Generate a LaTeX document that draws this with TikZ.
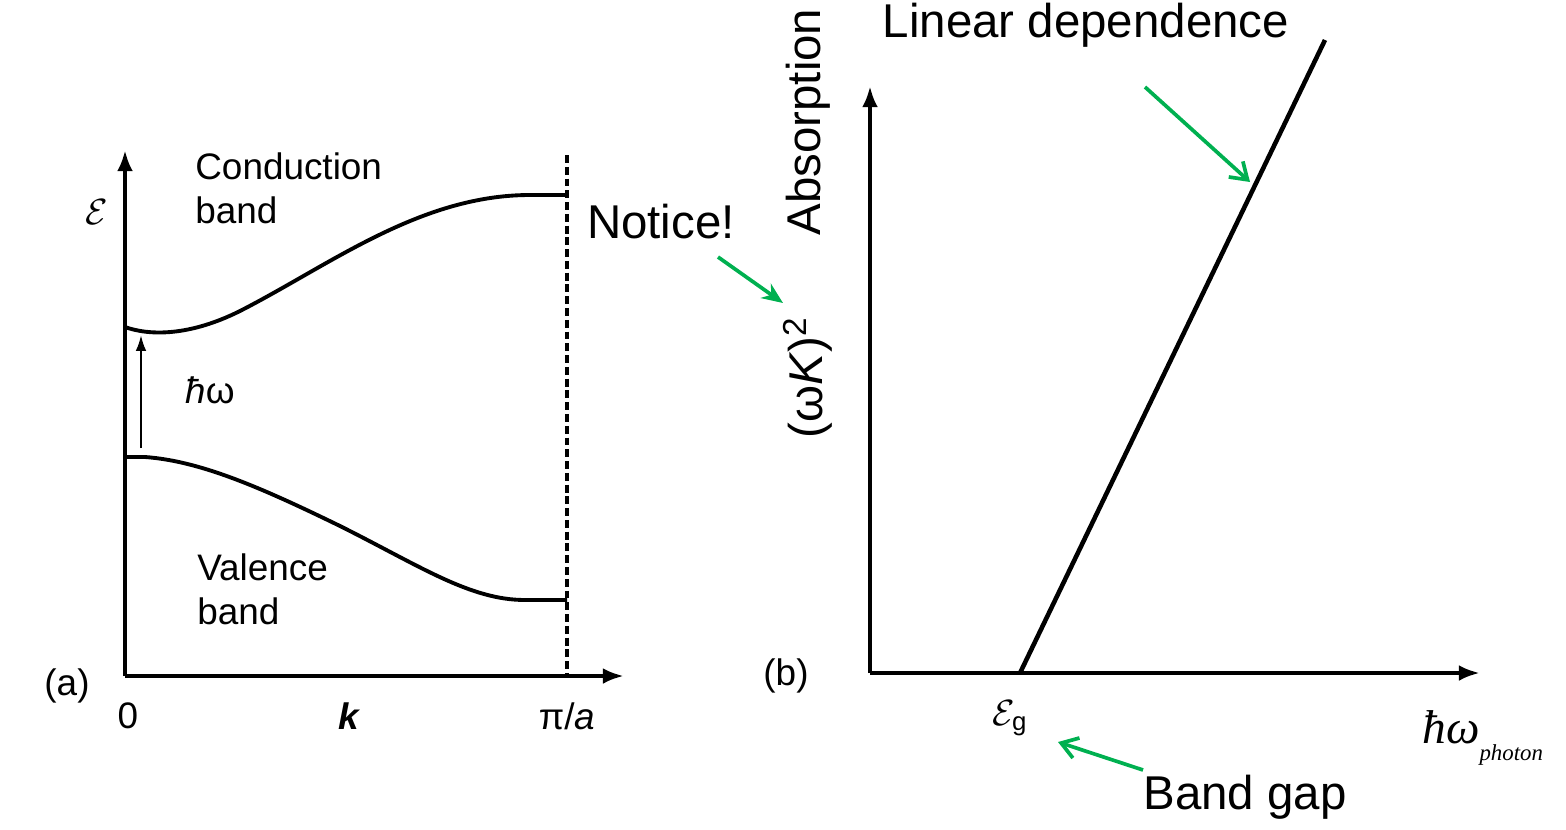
\documentclass[tikz,border=0pt]{standalone}
\usepackage{fontspec}
\setmainfont{Liberation Sans}
\newfontfamily\timesfont{Liberation Serif}
\usetikzlibrary{positioning,arrows.meta}

\definecolor{pptgreen}{RGB}{0,176,80}

\tikzset{
    axis/.style={line width=2.6pt, -{Latex[length=12pt,width=9pt]}},
    band/.style={line width=2.2pt},
    zone/.style={line width=2.4pt, dash pattern=on 4.5pt off 2.2pt},
    lbl/.style={font=\fontsize{21}{25}\selectfont, inner sep=0pt},
    note/.style={font=\fontsize{27}{32}\selectfont, inner sep=0pt},
    pointer/.style={draw=pptgreen, line width=2.1pt}
}

\begin{document}
\begin{tikzpicture}[x=0.02cm,y=-0.02cm]

\useasboundingbox (0,0) rectangle (1566,829);

% panel (a): bands
\coordinate (oa) at (125,676);
\coordinate (ea) at (125,150);
\coordinate (ka) at (624,676);
\coordinate (za) at (567,155);
\coordinate (zb) at (567,676);

\draw[axis] (oa) -- (ea);
\draw[axis] (oa) -- (ka);
\draw[zone] (za) -- (zb);

\draw[band] (125,327) .. controls (150,336) and (190,336) .. (240,311)
    .. controls (330,265) and (420,195) .. (530,195) -- (567,195);
\draw[band] (125,457) -- (145,457) .. controls (200,461) and (260,487) .. (340,526)
    .. controls (420,566) and (470,600) .. (525,600) -- (567,600);

\coordinate (hwa) at (141,448);
\coordinate (hwb) at (141,335);
\draw[line width=1.3pt, -{Latex[length=9pt,width=6pt]}] (hwa) -- (hwb);

\node[lbl, align=left, anchor=west] (cband) at (195,188) {Conduction\\band};
\node[lbl, align=left, anchor=west] (vband) at (197,589) {Valence\\band};
\node[lbl] (hw) at (210,390) {\textit{ħ}ω};
\node[lbl] (ena) at (97,212) {$\mathcal{E}$};
\node[lbl] (pa) at (67,686) {(a)};
\node[lbl] (zero) at (128,716) {0};
\node[lbl] (kk) at (350,716) {\textbf{\textit{k}}};
\node[lbl] (pia) at (567,716) {π/\textit{a}};

% panel (b): absorption
\coordinate (ob) at (870,673);
\coordinate (yb) at (870,86);
\coordinate (xb) at (1480,673);
\coordinate (gap) at (1020,673);
\coordinate (tip) at (1325,40);

\draw[axis] (ob) -- (yb);
\draw[axis] (ob) -- (xb);
\draw[line width=2.6pt] (gap) -- (tip);

\node[lbl] (pb) at (786,676) {(b)};
\node[lbl] (eg) at (1010,718) {$\mathcal{E}_{\mathrm{g}}$};
\node[inner sep=0pt, anchor=west] (hwp) at (1422,738)
    {\timesfont\itshape\fontsize{27}{32}\selectfont ħω\raisebox{-0.35em}{\fontsize{13}{16}\selectfont photon}};
\node[note, rotate=90] (abs) at (808,122) {Absorption};
\node[note, rotate=90] (wk) at (808,378) {(ω\textit{K})\textsuperscript{2}};

% annotations
\node[note] (notice) at (661,222) {Notice!};
\node[note] (lin) at (1086,25) {Linear dependence};
\node[note] (bgap) at (1245,797) {Band gap};

\coordinate (nt) at (718,257);
\coordinate (nh) at (783,303);
\coordinate (lt) at (1145,87);
\coordinate (lh) at (1250,182);
\coordinate (bt) at (1143,770);
\coordinate (bh) at (1058,742);

\draw[pointer, -{Stealth[length=12pt,width=10pt]}] (nt) -- (nh);
\draw[pointer, -{Straight Barb[length=9pt,width=12pt]}] (lt) -- (lh);
\draw[pointer, -{Straight Barb[length=9pt,width=12pt]}] (bt) -- (bh);

\end{tikzpicture}
\end{document}
